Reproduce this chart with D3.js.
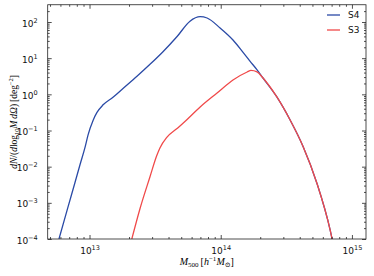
<!DOCTYPE html>
<html>
<head>
<meta charset="utf-8">
<script src="https://cdn.jsdelivr.net/npm/d3@7"></script>
<style>
    body { margin: 0; background: #fff; }
    .tick text, .legendText { font-family: "DejaVu Sans", sans-serif; }
    .axisLabel { font-family: "Liberation Serif", "DejaVu Serif", serif; }
</style>
</head>
<body>
<script>
//wrap everything in an anonymous function so nothing is in global scope
(function (){

    //halo mass (h^-1 Msun) and number density for each survey
    var massS4 = [5.85e12, 6.85e12, 7.74e12, 8.47e12, 9.25e12, 9.75e12, 1.064e13, 1.14e13, 1.27e13,
                  1.51e13, 1.80e13, 2.30e13, 2.89e13, 3.63e13, 4.65e13, 5.83e13, 6.97e13, 7.87e13,
                  9.89e13, 1.24e14, 1.48e14, 1.67e14, 1.88e14, 2.10e14, 2.67e14, 3.38e14, 4.25e14,
                  5.40e14, 6.82e14, 7.06e14];
    var densS4 = [1e-4, 7.6e-4, 3.6e-3, 1.15e-2, 3.47e-2, 7.6e-2, 0.19, 0.316, 0.513,
                  0.83, 1.45, 3.16, 6.76, 15.1, 39.8, 105, 140, 129,
                  68.2, 31.8, 14.5, 8.3, 4.9, 2.83, 0.861, 0.195, 0.0356,
                  3.54e-3, 1.78e-4, 1e-4];
    var massS3 = [2.10e13, 2.43e13, 2.89e13, 3.25e13, 3.44e13, 3.88e13, 4.62e13, 5.16e13, 6.97e13,
                  9.38e13, 1.24e14, 1.59e14, 1.70e14, 1.89e14, 2.10e14, 2.67e14, 3.38e14, 4.25e14,
                  5.40e14, 6.82e14, 7.06e14];
    var densS3 = [1e-4, 7.1e-4, 5.28e-3, 0.020, 0.033, 0.0646, 0.112, 0.158, 0.447,
                  1.09, 2.49, 4.14, 4.57, 4.17, 2.83, 0.861, 0.195, 0.0356,
                  3.54e-3, 1.78e-4, 1e-4];

    var seriesNames = ["S4", "S3"];
    var seriesColors = ["#2a4aa6", "#f04a4a"];

    //axis limits and major tick values
    var xDomain = [4.8e12, 1.28e15];
    var yDomain = [1e-4, 300];
    var xMajor = [1e13, 1e14, 1e15];
    var yMajor = [1e-4, 1e-3, 1e-2, 1e-1, 1e0, 1e1, 1e2];

    var width = 374, height = 276;
    var left = 47.7, right = 366, top = 4.75, bottom = 239;

    var svg = d3.select("body")
        .append("svg")
        .attr("width", width)
        .attr("height", height);

    var x = d3.scaleLog().domain(xDomain).range([left, right]);
    var y = d3.scaleLog().domain(yDomain).range([bottom, top]);

    //minor ticks: 2..9 times every decade inside the limits
    function minorTicks(domain){
        var out = [];
        var lo = Math.floor(Math.log10(domain[0])), hi = Math.ceil(Math.log10(domain[1]));
        for (var e = lo; e <= hi; e++){
            for (var k = 2; k < 10; k++){
                var v = k * Math.pow(10, e);
                if (v >= domain[0] && v <= domain[1] * 0.999) out.push(v);
            }
        }
        return out;
    }
    var xMinor = minorTicks(xDomain), yMinor = minorTicks(yDomain);

    //clip the curves to the plot frame
    svg.append("clipPath").attr("id", "frame")
        .append("rect")
        .attr("x", left).attr("y", top)
        .attr("width", right - left).attr("height", bottom - top);

    var line = d3.line()
        .x(function(d){ return x(d[0]); })
        .y(function(d){ return y(d[1]); })
        .curve(d3.curveMonotoneX);

    var curves = [d3.zip(massS4, densS4), d3.zip(massS3, densS3)];
    svg.selectAll(".curve")
        .data(curves)
        .enter()
        .append("path")
        .attr("class", "curve")
        .attr("clip-path", "url(#frame)")
        .attr("d", line)
        .style("fill", "none")
        .style("stroke", function(d, i){ return seriesColors[i]; })
        .style("stroke-width", 1.3);

    //put superscript exponents on the tick labels
    function powLabel(sel){
        sel.each(function(d){
            var t = d3.select(this).text("");
            var e = Math.round(Math.log10(d));
            t.append("tspan").text("10");
            t.append("tspan").attr("dy", -4).style("font-size", "6.5px")
                .text(String(e).replace("-", "\u2212"));
        });
    }

    function styleAxis(g){
        g.select(".domain").remove();
        g.selectAll("line").attr("stroke", "#222").attr("stroke-width", 0.8);
    }

    //bottom and left axes with labels, ticks pointing inward
    var xAxis = svg.append("g").attr("transform", "translate(0," + bottom + ")")
        .call(d3.axisBottom(x).tickValues(xMajor).tickSizeInner(-4).tickPadding(9));
    xAxis.call(styleAxis);
    xAxis.selectAll("text").style("font-size", "9px").attr("fill", "#111").call(powLabel);
    svg.append("g").attr("transform", "translate(0," + bottom + ")")
        .call(d3.axisBottom(x).tickValues(xMinor).tickSizeInner(-2).tickFormat(""))
        .call(styleAxis);

    var yAxis = svg.append("g").attr("transform", "translate(" + left + ",0)")
        .call(d3.axisLeft(y).tickValues(yMajor).tickSizeInner(-4).tickPadding(10));
    yAxis.call(styleAxis);
    yAxis.selectAll("text").style("font-size", "9px").attr("fill", "#111").attr("dy", "0.45em").call(powLabel);
    svg.append("g").attr("transform", "translate(" + left + ",0)")
        .call(d3.axisLeft(y).tickValues(yMinor).tickSizeInner(-2).tickFormat(""))
        .call(styleAxis);

    //top and right mirrored ticks
    [[xMajor, 4], [xMinor, 2]].forEach(function(p){
        svg.append("g").attr("transform", "translate(0," + top + ")")
            .call(d3.axisTop(x).tickValues(p[0]).tickSizeInner(-p[1]).tickFormat(""))
            .call(styleAxis);
    });
    [[yMajor, 4], [yMinor, 2]].forEach(function(p){
        svg.append("g").attr("transform", "translate(" + right + ",0)")
            .call(d3.axisRight(y).tickValues(p[0]).tickSizeInner(-p[1]).tickFormat(""))
            .call(styleAxis);
    });

    //plot frame
    svg.append("rect")
        .attr("x", left).attr("y", top)
        .attr("width", right - left).attr("height", bottom - top)
        .style("fill", "none").style("stroke", "#222").style("stroke-width", 0.8);

    //x axis title: M_500 [h^-1 M_sun]
    var xt = svg.append("text").attr("class", "axisLabel")
        .attr("x", (left + right) / 2).attr("y", 265)
        .attr("text-anchor", "middle").style("font-size", "10px");
    xt.append("tspan").style("font-style", "italic").text("M");
    xt.append("tspan").attr("dy", 2).style("font-size", "7px").text("500");
    xt.append("tspan").attr("dy", -2).text("\u2009[");
    xt.append("tspan").style("font-style", "italic").text("h");
    xt.append("tspan").attr("dy", -4).style("font-size", "7px").text("\u22121");
    xt.append("tspan").attr("dy", 4).style("font-style", "italic").text("M");
    xt.append("tspan").attr("dy", 2).style("font-size", "7px").text("\u2299");
    xt.append("tspan").attr("dy", -2).text("]");

    //y axis title: dN/(dlog10 M dOmega) [deg^-2]
    var yt = svg.append("text").attr("class", "axisLabel")
        .attr("transform", "translate(17," + ((top + bottom) / 2) + ") rotate(-90)")
        .attr("text-anchor", "middle").style("font-size", "9.5px");
    yt.append("tspan").style("font-style", "italic").text("dN");
    yt.append("tspan").text("/(");
    yt.append("tspan").style("font-style", "italic").text("d");
    yt.append("tspan").text("log");
    yt.append("tspan").attr("dy", 2).style("font-size", "6.5px").text("10");
    yt.append("tspan").attr("dy", -2).style("font-style", "italic").text("M\u2009d\u03A9");
    yt.append("tspan").text(")\u2009[deg");
    yt.append("tspan").attr("dy", -4).style("font-size", "6.5px").text("\u22122");
    yt.append("tspan").attr("dy", 4).text("]");

    //legend in upper right, no frame
    var legend = svg.selectAll(".legend")
        .data(seriesNames)
        .enter()
        .append("g")
        .attr("class", "legend")
        .attr("transform", function(d, i){ return "translate(327," + (15 + i * 15) + ")"; });
    legend.append("line")
        .attr("x1", 0).attr("x2", 13)
        .style("stroke", function(d, i){ return seriesColors[i]; })
        .style("stroke-width", 1.3);
    legend.append("text")
        .attr("class", "legendText")
        .attr("x", 21).attr("y", 3.3)
        .style("font-size", "9px").attr("fill", "#111")
        .text(function(d){ return d; });

})();
</script>
</body>
</html>
